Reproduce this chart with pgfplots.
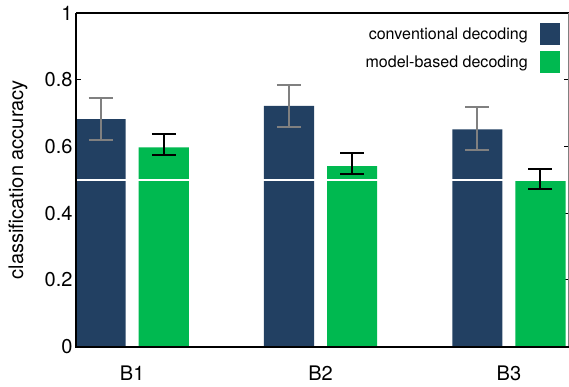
\documentclass[border=0pt]{standalone}
\usepackage{fontspec}
\setmainfont{TeX Gyre Heros}
\usepackage{pgfplots}
\pgfplotsset{compat=1.18}
\definecolor{navy}{RGB}{34,64,98}
\definecolor{mgreen}{RGB}{0,185,80}
\begin{document}
\begin{tikzpicture}
\begin{axis}[name=ax, scale only axis, width=492pt, height=333pt,
  xmin=0.7021, xmax=3.3191, ymin=0, ymax=1,
  xtick={1,2,3}, xticklabels={B1,B2,B3},
  ytick={0,0.2,0.4,0.6,0.8,1},
  /pgf/number format/assume math mode=true,
  tick align=inside, major tick length=5pt,
  xtick style={draw=none},
  ytick style={black, line width=1pt},
  axis line style={draw=none},
  clip=false,
  ylabel={classification accuracy},
  ylabel style={at={(axis description cs:-0.1179,0.5)}, anchor=center},
  label style={font=\fontsize{20}{24}\selectfont},
  tick label style={font=\fontsize{20}{24}\selectfont},
  xticklabel style={anchor=base, yshift=-34pt},
  legend plot pos=right, legend cell align=right,
  legend style={draw=none, fill=none, at={(axis description cs:0.9817,0.970)}, anchor=north east,
    inner sep=0pt, column sep=10pt, row sep=6pt, font=\fontsize{16}{19}\selectfont},
]
\addplot[ybar, bar width=50pt, bar shift=-31.5pt, fill=navy, draw=none,
  legend image code/.code={\fill[navy] (0pt,-11pt) rectangle (20pt,11pt);}]
  coordinates {(1,0.682) (2,0.722) (3,0.651)};
\addlegendentry{conventional decoding}
\addplot[ybar, bar width=50pt, bar shift=31.5pt, fill=mgreen, draw=none,
  legend image code/.code={\fill[mgreen] (0pt,-11pt) rectangle (20pt,11pt);}]
  coordinates {(1,0.597) (2,0.541) (3,0.496)};
\addlegendentry{model-based decoding}
\addplot[forget plot, white, line width=1.5pt] coordinates {(0.7021,0.5) (3.3191,0.5)};
\addplot[forget plot, draw=none, no markers,
  error bars/.cd, y dir=both, y explicit,
  error bar style={draw=gray, line width=2pt},
  error mark options={draw=gray, line width=2pt, mark size=12pt, rotate=90}]
  coordinates {(0.8324,0.682) += (0,0.062) -= (0,0.064)
               (1.8324,0.722) += (0,0.062) -= (0,0.064)
               (2.8324,0.651) += (0,0.068) -= (0,0.063)};
\addplot[forget plot, draw=none, no markers,
  error bars/.cd, y dir=both, y explicit,
  error bar style={draw=black, line width=2pt},
  error mark options={draw=black, line width=2pt, mark size=12pt, rotate=90}]
  coordinates {(1.1676,0.597) += (0,0.039) -= (0,0.024)
               (2.1676,0.541) += (0,0.038) -= (0,0.024)
               (3.1676,0.496) += (0,0.036) -= (0,0.024)};
\draw[black, line width=1.2pt] (rel axis cs:0,1) -- (rel axis cs:1,1);
\draw[gray, line width=1pt] (rel axis cs:1,0) -- (rel axis cs:1,1);
\draw[black, line width=2pt] (rel axis cs:0,1) -- (rel axis cs:0,0) -- (rel axis cs:1,0);
\end{axis}
\pgfresetboundingbox
\path[use as bounding box] ([xshift=-76pt,yshift=-40pt]ax.south west) rectangle ([yshift=13pt]ax.north east);
\end{tikzpicture}
\end{document}
